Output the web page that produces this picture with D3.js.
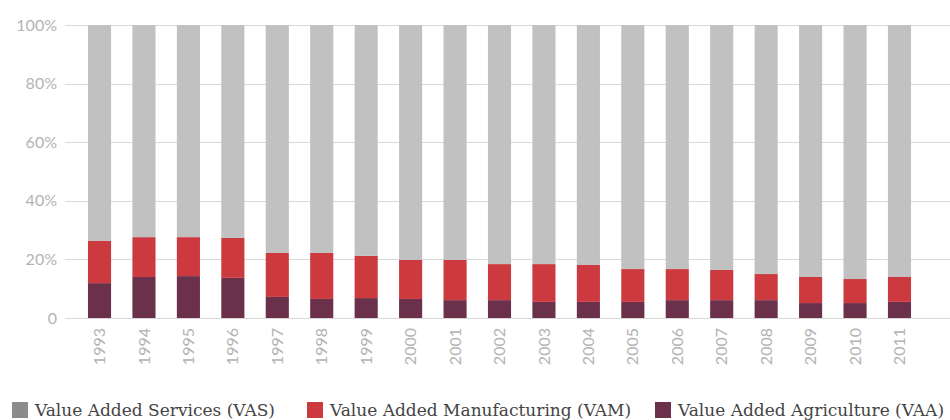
<!DOCTYPE html>
<html>
<head>
<meta charset="utf-8">
<script src="https://cdn.jsdelivr.net/npm/d3@7"></script>
<style>
  body { margin: 0; background: #fff; }
  .tick-label { font-family: Lato, "Open Sans", sans-serif; fill: #b3b3b3; }
  .legend-text { font-family: "DejaVu Serif", serif; fill: #444; }
</style>
</head>
<body>
<div id="chart"></div>
<script>
const years = ["1993","1994","1995","1996","1997","1998","1999","2000","2001","2002",
               "2003","2004","2005","2006","2007","2008","2009","2010","2011"];
// shares in percent
const agriculture   = [11.9,14.0,14.3,13.7,7.2,6.5,6.8,6.5,6.1,6.1,5.5,5.5,5.5,6.1,6.1,6.1,5.1,5.1,5.5];
const manufacturing = [14.4,13.6,13.3,13.6,15.0,15.7,14.4,13.3,13.7,12.3,12.9,12.6,11.2,10.6,10.3,8.9,8.9,8.2,8.5];
const services      = [73.7,72.4,72.4,72.7,77.8,77.8,78.8,80.2,80.2,81.6,81.6,81.9,83.3,83.3,83.6,85.0,86.0,86.7,86.0];
const yTicks = [0, 20, 40, 60, 80, 100];

const seriesNames = ["Value Added Services (VAS)", "Value Added Manufacturing (VAM)", "Value Added Agriculture (VAA)"];
const legendColors = ["#8c8c8c", "#cc3a3f", "#6b314b"];

const W = 950, H = 420;
const svg = d3.select("#chart").append("svg")
  .attr("width", W).attr("height", H);

const rows = years.map((y, i) => ({ year: y, vaa: agriculture[i], vam: manufacturing[i], vas: services[i] }));
const keys = ["vaa", "vam", "vas"];
const fill = { vaa: "#6b314b", vam: "#cc3a3f", vas: "#c1c1c1" };

const x = d3.scaleBand()
  .domain(years)
  .range([77.3, 921.7])
  .paddingInner(0.48)
  .paddingOuter(0.24);

const y = d3.scaleLinear().domain([0, 100]).range([318, 25]);

// gridlines
svg.append("g")
  .selectAll("line")
  .data(yTicks)
  .join("line")
  .attr("x1", 65).attr("x2", W)
  .attr("y1", d => Math.round(y(d)) + 0.5)
  .attr("y2", d => Math.round(y(d)) + 0.5)
  .attr("stroke", "#d9d9d9")
  .attr("stroke-width", 1);

// y labels
svg.append("g")
  .selectAll("text")
  .data(yTicks)
  .join("text")
  .attr("class", "tick-label")
  .attr("x", 57)
  .attr("y", d => y(d))
  .attr("dy", "0.35em")
  .attr("text-anchor", "end")
  .style("font-size", "16px")
  .text(d => d === 0 ? "0" : d + "%");

// stacked bars
const stacked = d3.stack().keys(keys)(rows);
svg.append("g")
  .selectAll("g")
  .data(stacked)
  .join("g")
  .attr("fill", d => fill[d.key])
  .selectAll("rect")
  .data(d => d)
  .join("rect")
  .attr("x", d => x(d.data.year))
  .attr("width", x.bandwidth())
  .attr("y", d => y(d[1]))
  .attr("height", d => y(d[0]) - y(d[1]));

// x labels, rotated
svg.append("g")
  .selectAll("text")
  .data(years)
  .join("text")
  .attr("class", "tick-label")
  .attr("transform", d => `translate(${x(d) + x.bandwidth() / 2},328) rotate(-90)`)
  .attr("text-anchor", "end")
  .attr("dy", "0.35em")
  .style("font-size", "16px")
  .text(d => d);

// legend
const legendX = [12, 307, 655];
const legend = svg.append("g");
seriesNames.forEach((name, i) => {
  const g = legend.append("g").attr("transform", `translate(${legendX[i]},402)`);
  g.append("rect").attr("width", 16).attr("height", 16).attr("fill", legendColors[i]);
  g.append("text")
    .attr("class", "legend-text")
    .attr("x", 23)
    .attr("y", 14)
    .style("font-size", "17px")
    .text(name);
});
</script>
</body>
</html>
